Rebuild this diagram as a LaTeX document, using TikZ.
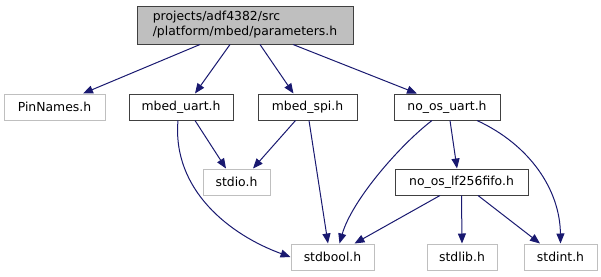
\documentclass[tikz,border=0pt]{standalone}
\usepackage{fontspec}
\setmainfont{DejaVu Sans}
\usetikzlibrary{arrows.meta}

\tikzset{
	hfile/.style={draw=black!75,line width=1pt,minimum height=26pt,inner sep=0pt,
		font=\fontsize{12.4}{15}\selectfont},
	sysfile/.style={hfile,draw=black!25},
	inc/.style={draw={rgb,255:red,25;green,25;blue,112},line width=1pt,
		-{Triangle[length=10pt,width=8pt]}},
}

\begin{document}
\begin{tikzpicture}[x=1pt,y=-1pt]
	\useasboundingbox (0,0) rectangle (601,276);

	% top file
	\node[hfile,fill=black!25,minimum width=216pt,minimum height=38pt,align=left]
		(params) at (245,25) {projects/adf4382/src\\/platform/mbed/parameters.h};

	% first row
	\node[sysfile,minimum width=101pt] (pinnames) at (54.5,107) {PinNames.h};
	\node[hfile,minimum width=104pt] (mbeduart) at (181,107) {mbed\_uart.h};
	\node[hfile,minimum width=99pt] (mbedspi) at (307.5,107) {mbed\_spi.h};
	\node[hfile,minimum width=106pt] (uart) at (447,107) {no\_os\_uart.h};

	% middle row
	\node[sysfile,minimum width=67pt] (stdio) at (236.5,182) {stdio.h};
	\node[hfile,minimum width=133pt] (fifo) at (461.5,182) {no\_os\_lf256fifo.h};

	% bottom row
	\node[sysfile,minimum width=83pt] (stdbool) at (332.5,257) {stdbool.h};
	\node[sysfile,minimum width=70pt] (stdlib) at (462,257) {stdlib.h};
	\node[sysfile,minimum width=73pt] (stdint) at (560.5,257) {stdint.h};

	% includes of parameters.h
	\draw[inc] ([xshift=-45pt]params.south) -- ([xshift=28.5pt]pinnames.north);
	\draw[inc] ([xshift=-15pt]params.south) -- ([xshift=14pt]mbeduart.north);
	\draw[inc] ([xshift=15pt]params.south) -- ([xshift=-14pt]mbedspi.north);
	\draw[inc] ([xshift=48pt]params.south) -- ([xshift=-30pt]uart.north);

	\draw[inc] ([xshift=14pt]mbeduart.south) -- ([xshift=-10.5pt]stdio.north);
	\draw[inc] ([xshift=-3pt]mbeduart.south) .. controls (172,190) and (230,235) .. (stdbool.west);
	\draw[inc] ([xshift=-12pt]mbedspi.south) -- ([xshift=16.5pt]stdio.north);
	\draw[inc] ([xshift=1.5pt]mbedspi.south) -- ([xshift=-4.5pt]stdbool.north);

	\draw[inc] ([xshift=-15pt]uart.south) .. controls (400,145) and (352,200) .. ([xshift=7pt]stdbool.north);
	\draw[inc] ([xshift=3pt]uart.south) -- ([xshift=-4.5pt]fifo.north);
	\draw[inc] ([xshift=30pt]uart.south) .. controls (530,145) and (560,190) .. (stdint.north);

	\draw[inc] ([xshift=-21.5pt]fifo.south) -- ([xshift=22pt]stdbool.north);
	\draw[inc] (fifo.south) -- (stdlib.north);
	\draw[inc] ([xshift=16.5pt]fifo.south) -- ([xshift=-20.5pt]stdint.north);
\end{tikzpicture}
\end{document}
